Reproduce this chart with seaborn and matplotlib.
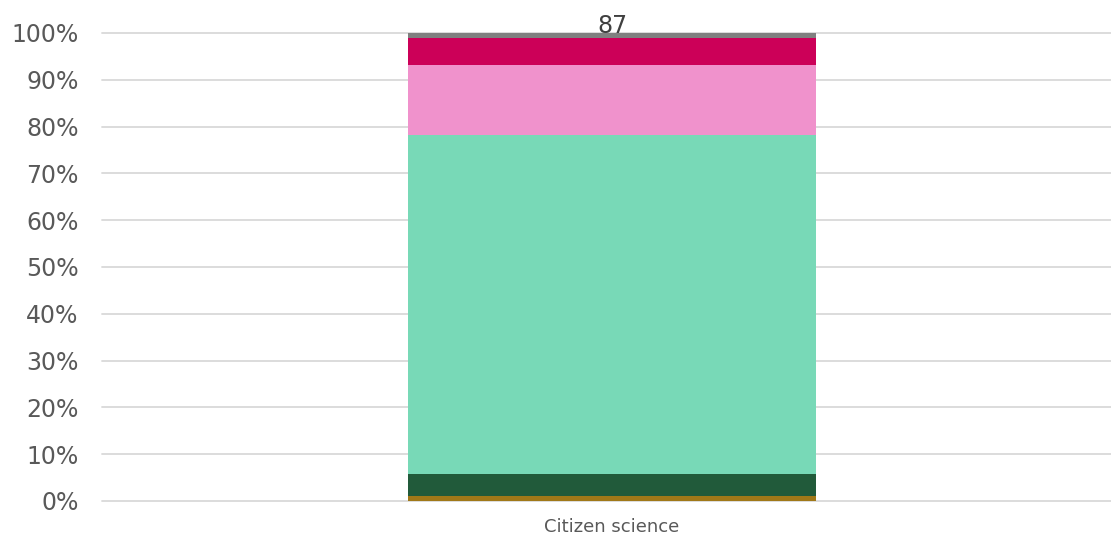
import matplotlib
matplotlib.use("Agg")
import matplotlib.pyplot as plt
import seaborn as sns
import numpy as np
import pandas as pd
from matplotlib.ticker import PercentFormatter

# Single stacked bar: responses for one category, stacked as shares of the total
categories = ["Citizen science"]
segment_counts = [1, 4, 63, 13, 5, 1]
segment_colors = ["#A07818", "#215A3A", "#78D9B7", "#F092CC", "#CC0058", "#808080"]
y_ticks = [0, 0.1, 0.2, 0.3, 0.4, 0.5, 0.6, 0.7, 0.8, 0.9, 1.0]

sns.set_theme(style="white")
plt.rcParams["font.family"] = ["DejaVu Sans"]

W, H = 1111, 534
fig = plt.figure(figsize=(W / 100, H / 100), dpi=100)
ax = fig.add_axes([102 / W, 33 / H, 1009 / W, 468 / H])

total = sum(segment_counts)
shares = np.array(segment_counts) / total
bottoms = np.concatenate([[0], np.cumsum(shares)[:-1]])

for share, base, color in zip(shares, bottoms, segment_colors):
    df = pd.DataFrame({"category": categories, "share": [share]})
    sns.barplot(data=df, x="category", y="share", bottom=base, color=color,
                width=0.404, saturation=1, linewidth=0, ax=ax, zorder=3)

ax.text(0, 1.0, f"{total}", ha="center", va="baseline", fontsize=17,
        color="#404040", zorder=4, transform=ax.transData)

ax.set_ylim(0, 1.0)
ax.set_xlim(-0.5055, 0.4945)
ax.set_yticks(y_ticks)
ax.yaxis.set_major_formatter(PercentFormatter(1.0, decimals=0))
ax.grid(axis="y", color="#D9D9D9", linewidth=1.3, zorder=0)
ax.grid(axis="x", visible=False)
for line in ax.get_ygridlines():
    line.set_clip_on(False)
for s in ax.spines.values():
    s.set_visible(False)
ax.tick_params(axis="y", length=0, pad=17, labelsize=17, labelcolor="#595959")
ax.tick_params(axis="x", length=0, pad=12, labelsize=13, labelcolor="#595959")
ax.set_xlabel("")
ax.set_ylabel("")

fig.savefig("out.png", dpi=100)
